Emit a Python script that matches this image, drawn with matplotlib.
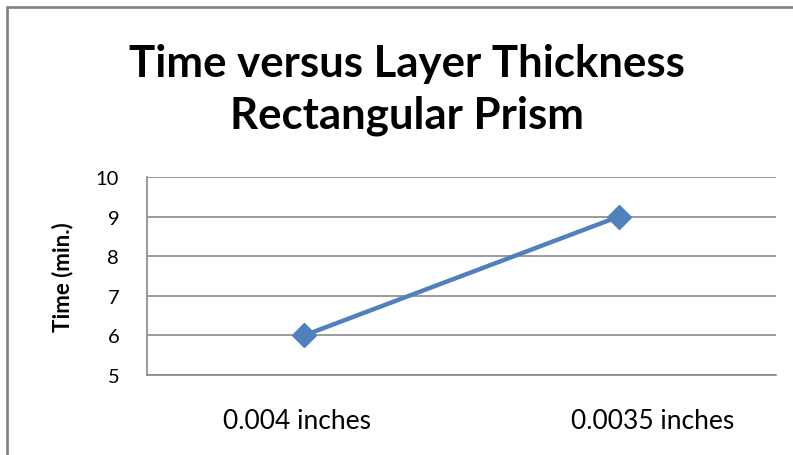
import matplotlib.pyplot as plt
from matplotlib.patches import Rectangle
from matplotlib.transforms import ScaledTranslation

# layer thickness vs print time
layers = ['0.004 inches', '0.0035 inches']
times = [6, 9]
yticks = [5, 6, 7, 8, 9, 10]

plt.rcParams['font.family'] = ['Lato', 'DejaVu Sans']

fig = plt.figure(figsize=(7.93, 4.56), dpi=100)
ax = fig.add_axes([147 / 793, 1 - 376 / 456, 629 / 793, 198 / 456])

ax.plot(range(len(layers)), times, color='#4F81BD', linewidth=3.2,
        marker='D', markersize=12, solid_capstyle='round')

ax.set_xlim(-0.5, len(layers) - 0.5)
ax.set_ylim(5, 10)
ax.set_yticks(yticks)
ax.set_xticks(range(len(layers)))
ax.set_xticklabels(layers, fontsize=19)
ax.tick_params(axis='y', labelsize=14.5, length=0, pad=20)
ax.tick_params(axis='x', length=0, pad=24)

# nudge the category labels a bit like the spreadsheet layout
for lbl, dx in zip(ax.get_xticklabels(), [-7, 34]):
    lbl.set_transform(lbl.get_transform() + ScaledTranslation(dx / 100, 0, fig.dpi_scale_trans))

ax.grid(axis='y', color='#898989', linewidth=1.2)
ax.set_axisbelow(True)
for side in ['top', 'right']:
    ax.spines[side].set_visible(False)
for side in ['left', 'bottom']:
    ax.spines[side].set_color('#898989')
    ax.spines[side].set_linewidth(1.2)

ax.set_ylabel('Time (min.)', fontsize=16, fontweight='bold', labelpad=16)

fig.text(407 / 793, 1 - 90 / 456, 'Time versus Layer Thickness\nRectangular Prism',
         ha='center', va='center', fontsize=31.5, fontweight='bold', linespacing=1.32)

# chart frame
fig.patches.append(Rectangle((7 / 793, -0.1), 1.2, 1 - 7.5 / 456 + 0.1,
                             transform=fig.transFigure, fill=False,
                             edgecolor='#868686', linewidth=2))

fig.savefig('out.png', dpi=100)
